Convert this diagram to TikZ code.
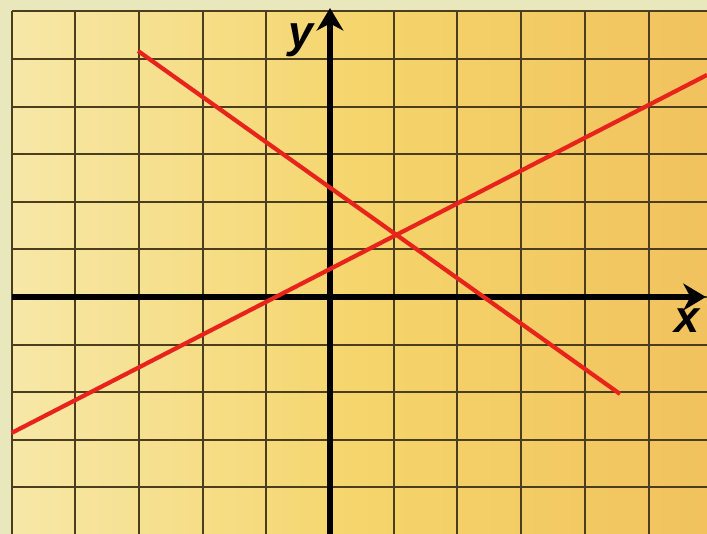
\documentclass[tikz,border=0pt]{standalone}
\usepackage{fontspec}
\setsansfont{Liberation Sans}
\usetikzlibrary{arrows.meta}

\definecolor{marginpale}{HTML}{E9E7BC}
\definecolor{shadeleft}{HTML}{F7E8A8}
\definecolor{shademid}{HTML}{F5D56C}
\definecolor{shaderight}{HTML}{F1C25E}
\definecolor{gridbrown}{HTML}{4B3D1E}
\definecolor{linered}{HTML}{E8231C}

\begin{document}
\begin{tikzpicture}[
  x=1.5925cm, y=1.19cm,
  gridline/.style={draw=gridbrown, line width=1.4pt},
  axis/.style={draw=black, line width=4pt,
               -{Stealth[length=16pt, width=19pt, inset=5pt]}},
  graphline/.style={draw=linered, line width=3pt},
  axislabel/.style={anchor=base,
                    font=\sffamily\bfseries\itshape\fontsize{32}{32}\selectfont},
  >=Stealth
]

% Pale margin and shaded grid area
\fill[marginpale] (-5.181,-4.979) rectangle (5.918,6.239);
\shade[left color=shadeleft, right color=shaderight, middle color=shademid]
  (-5,-4.979) rectangle (5.918,6);
\useasboundingbox (-5.181,-4.979) rectangle (5.918,6.239);

% Grid lines
\foreach \gx in {-5,...,5}{
  \draw[gridline] (\gx,-4.979) -- (\gx,6);
}
\foreach \gy in {-4,...,6}{
  \draw[gridline] (-5,\gy) -- (5.918,\gy);
}

% Axes
\coordinate (xstart) at (-5,0);
\coordinate (xend)   at (5.90,0);
\coordinate (ystart) at (0,-4.979);
\coordinate (yend)   at (0,6.07);
\draw[axis] (xstart) -- (xend);
\draw[axis] (ystart) -- (yend);

\node[axislabel] (xlabel) at (5.604,-0.756) {x};
\node[axislabel] (ylabel) at (-0.455,5.25) {y};

% The two lines
\coordinate (fallA) at (-3.014,5.168);
\coordinate (fallB) at (4.553,-2.038);
\coordinate (riseA) at (-5.0,-2.857);
\coordinate (riseB) at (5.918,4.664);
\draw[graphline] (fallA) -- (fallB);
\draw[graphline] (riseA) -- (riseB);

\end{tikzpicture}
\end{document}
